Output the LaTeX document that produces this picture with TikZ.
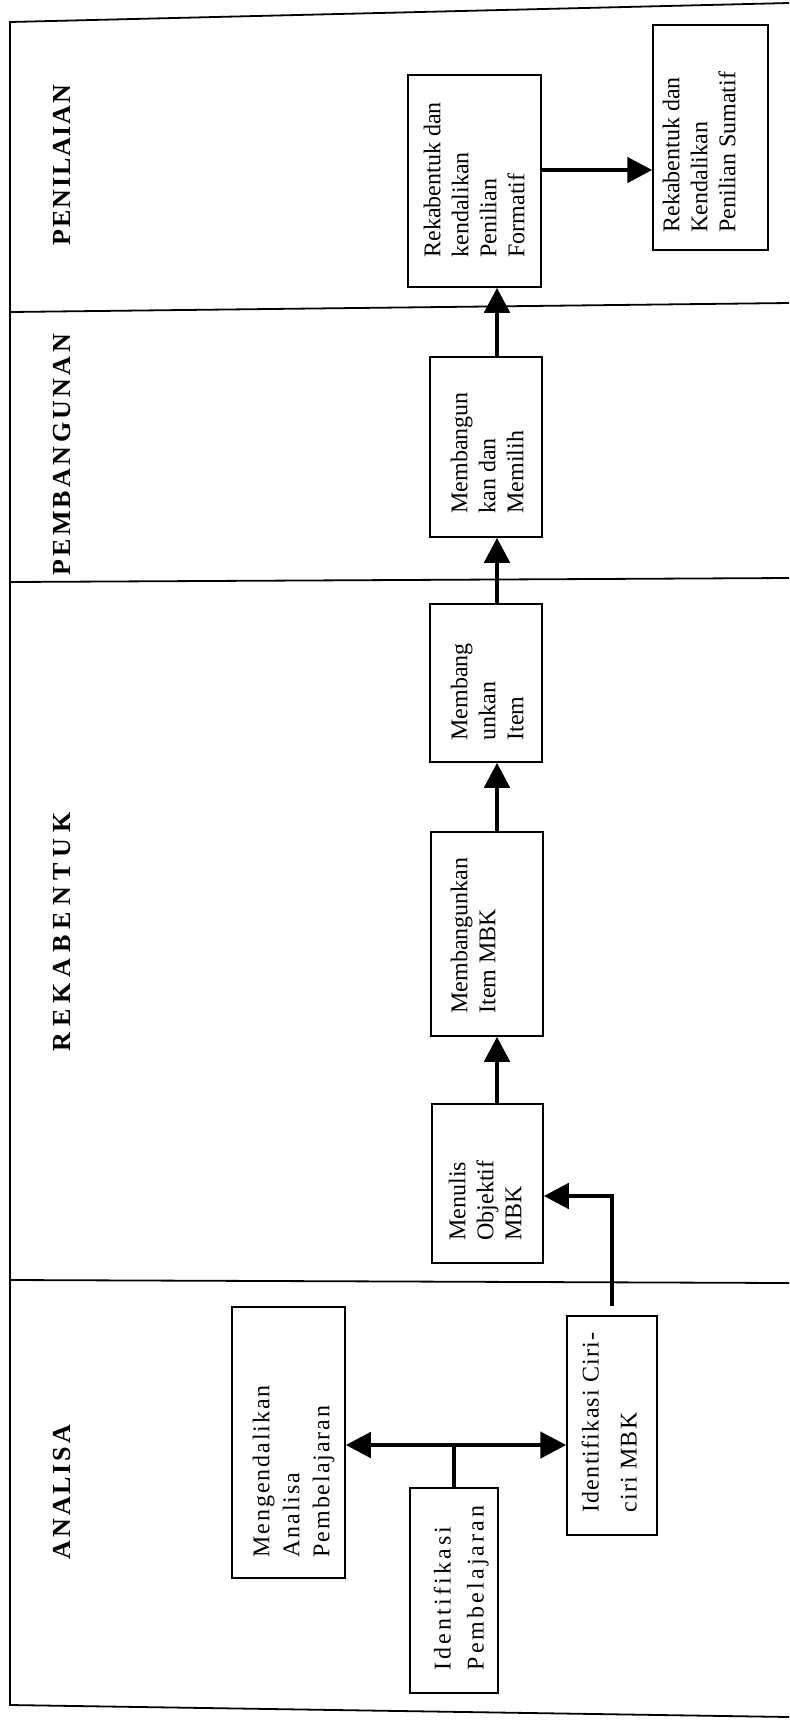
\documentclass[tikz,border=0pt]{standalone}
\usepackage{fontspec}
\setmainfont{Liberation Serif}
\usetikzlibrary{arrows.meta,calc}
\begin{document}
\begin{tikzpicture}[x=0.5pt,y=-0.5pt,
  frame/.style={line width=0.9pt},
  box/.style={draw, line width=0.75pt, inner sep=0pt},
  txt/.style={rotate=90, anchor=north west, inner sep=0pt, align=left,
    font=\fontsize{12pt}{14pt}\selectfont},
  head/.style={rotate=90, inner sep=0pt},
  arr/.style={line width=2.4pt, -{Triangle[length=12.5pt,width=12.5pt]}},
  arrboth/.style={line width=2.4pt, {Triangle[length=12.5pt,width=12.5pt]}-{Triangle[length=13pt,width=13pt]}},
  link/.style={line width=1.6pt}
]
\useasboundingbox (0,0) rectangle (789,1720);
% frame and band dividers
\draw[frame] (789,3) -- (10,22) -- (10,1705) -- (789,1717);
\draw[frame] (10,312) -- (789,303);
\draw[frame] (10,582) -- (789,578);
\draw[frame] (10,1280) -- (789,1283);

% headings
\node[head, font=\fontsize{13pt}{15pt}\selectfont\bfseries\addfontfeature{LetterSpace=7}] (hPen) at (62,165) {PENILAIAN};
\node[head, font=\fontsize{13pt}{15pt}\selectfont\bfseries\addfontfeature{LetterSpace=13}] (hPem) at (62,455) {PEMBANGUNAN};
\node[head, font=\fontsize{13pt}{15pt}\selectfont\bfseries\addfontfeature{LetterSpace=23}] (hRek) at (62,932) {REKABENTUK};
\node[head, font=\fontsize{13pt}{15pt}\selectfont\bfseries\addfontfeature{LetterSpace=11}] (hAna) at (62,1492) {ANALISA};

% boxes
\node[box, minimum width=66.5pt, minimum height=106pt] (Formatif) at (474.5,181) {};
\node[box, minimum width=57.5pt, minimum height=112.5pt] (Sumatif) at (710.5,137.5) {};
\node[box, minimum width=56pt, minimum height=90pt] (Memilih) at (486,447) {};
\node[box, minimum width=56pt, minimum height=79pt] (Item) at (486,683) {};
\node[box, minimum width=56pt, minimum height=102pt] (MBK) at (487,934) {};
\node[box, minimum width=55.5pt, minimum height=79.5pt] (Menulis) at (487.5,1183.5) {};
\node[box, minimum width=45pt, minimum height=109.5pt] (Ciri) at (612,1425.5) {};
\node[box, minimum width=56.5pt, minimum height=135.5pt] (Mengen) at (288.5,1442.5) {};
\node[box, minimum width=44pt, minimum height=102.5pt] (IdP) at (454,1590.5) {};

% box texts
\node[txt] (tFormatif) at ([xshift=8pt,yshift=15pt]Formatif.south west) {Rekabentuk dan\\kendalikan\\Penilian\\Formatif};
\node[txt] (tSumatif) at ([xshift=5pt,yshift=9pt]Sumatif.south west) {Rekabentuk dan\\Kendalikan\\Penilian Sumatif};
\node[txt] (tMemilih) at ([xshift=10.5pt,yshift=12pt]Memilih.south west) {Membangun\\kan dan\\Memilih};
\node[txt] (tItem) at ([xshift=10.5pt,yshift=11pt]Item.south west) {Membang\\unkan\\Item};
\node[txt] (tMBK) at ([xshift=10pt,yshift=11.5pt]MBK.south west) {Membangunkan\\Item MBK};
\node[txt] (tMenulis) at ([xshift=8.5pt,yshift=11.5pt]Menulis.south west) {Menulis\\Objektif\\MBK};
\node[txt, font=\fontsize{12pt}{19pt}\selectfont\addfontfeature{LetterSpace=5}] (tCiri) at ([xshift=7.5pt,yshift=11.5pt]Ciri.south west) {Identifikasi Ciri-\\ciri MBK};
\node[txt, font=\fontsize{12pt}{15pt}\selectfont\addfontfeature{LetterSpace=8}] (tMengen) at ([xshift=10.5pt,yshift=10.5pt]Mengen.south west) {Mengendalikan\\Analisa\\Pembelajaran};
\node[txt, font=\fontsize{12pt}{16.5pt}\selectfont\addfontfeature{LetterSpace=13}] (tIdP) at ([xshift=12pt,yshift=11.5pt]IdP.south west) {Identifikasi\\Pembelajaran};

% helper coordinates
\coordinate (colx) at (497,0);
\coordinate (fy) at (0,170);
\coordinate (ey) at (0,1196);
\coordinate (hy) at (0,1445);

% connectors
\draw[arr] (Memilih.north -| colx) -- (Formatif.south -| colx);
\draw[arr] (Item.north -| colx) -- (Memilih.south -| colx);
\draw[arr] (MBK.north -| colx) -- (Item.south -| colx);
\draw[arr] (Menulis.north -| colx) -- (MBK.south -| colx);
\draw[arr] (Formatif.east |- fy) -- (Sumatif.west |- fy);
\draw[arr, shorten <=4.5pt] (Ciri.north) |- (Menulis.east |- ey);
\draw[arrboth] (Mengen.east |- hy) -- (Ciri.west |- hy);
\draw[link] (IdP.north) -- (IdP.north |- hy);
\end{tikzpicture}
\end{document}
